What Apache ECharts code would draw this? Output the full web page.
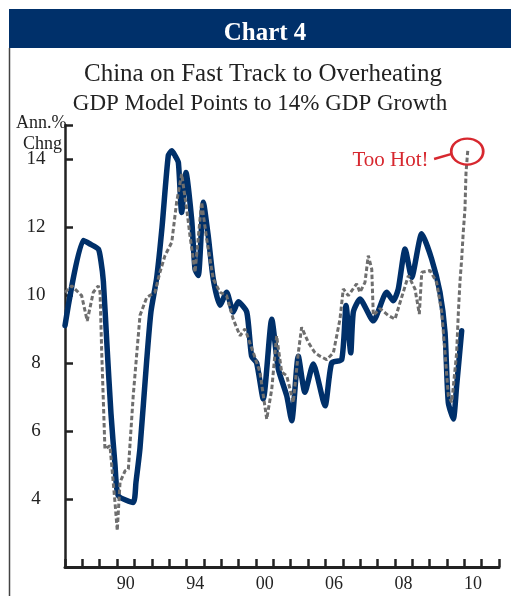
<!DOCTYPE html>
<html>
<head>
<meta charset="utf-8">
<script src="https://cdn.jsdelivr.net/npm/echarts@6/dist/echarts.min.js"></script>
<style>
html,body{margin:0;padding:0;background:#fff;}
#chart{width:511px;height:596px;}
</style>
</head>
<body>
<div id="chart"></div>
<script>
// x positions are in tick-period units along the horizontal axis (0 = left axis, 25 = right end)
const xTickLabels = ['', '', '', '90', '', '', '', '94', '', '', '', '00', '', '', '', '06', '', '', '', '08', '', '', '', '10', ''];

const gdpX = [0, 1.05, 1.44, 1.92, 2.07, 2.21, 2.42, 2.65, 2.88, 3.07, 3.93, 4.09, 4.32, 4.71, 4.95, 5.28, 5.59, 5.95, 6.15, 6.34, 6.53, 6.72, 6.97, 7.30, 7.49, 7.68, 7.97, 8.25, 8.54, 8.93, 9.31, 9.69, 9.98, 10.47, 10.75, 11.04, 11.42, 11.91, 12.29, 12.77, 13.06, 13.44, 13.82, 14.30, 14.98, 15.36, 15.94, 16.19, 16.46, 16.61, 16.99, 17.76, 18.53, 18.91, 19.20, 19.59, 19.97, 20.55, 21.12, 21.60, 21.89, 22.08, 22.37, 22.56, 22.85];
const gdpY = [9.1, 11.6, 11.5, 11.35, 11.0, 10.4, 8.5, 6.5, 5.0, 4.1, 3.9, 4.5, 5.5, 8.1, 9.5, 10.5, 12.0, 14.1, 14.24, 14.1, 13.9, 12.43, 13.6, 12.2, 10.76, 10.57, 12.73, 11.74, 10.47, 9.7, 10.08, 9.5, 9.8, 9.5, 8.2, 8.0, 6.94, 9.29, 7.82, 7.04, 6.3, 8.2, 7.14, 7.97, 6.74, 8.0, 8.1, 9.69, 8.3, 9.5, 9.88, 9.24, 10.08, 9.83, 10.18, 11.35, 10.52, 11.8, 11.06, 10.08, 8.9, 6.84, 6.35, 7.33, 8.95];

const modelX = [0, 0.39, 0.96, 1.28, 1.63, 1.92, 2.02, 2.11, 2.30, 2.59, 2.88, 3.01, 3.17, 3.46, 3.65, 3.93, 4.32, 4.71, 5.18, 5.47, 5.76, 6.15, 6.43, 6.72, 7.01, 7.20, 7.49, 7.87, 8.16, 8.54, 8.93, 9.31, 9.69, 10.08, 10.37, 10.85, 11.23, 11.62, 11.91, 12.19, 12.48, 12.77, 13.15, 13.44, 13.63, 14.02, 14.40, 14.69, 15.07, 15.46, 15.84, 16.03, 16.32, 16.80, 16.99, 17.28, 17.47, 17.67, 17.76, 18.15, 18.62, 19.01, 19.30, 19.78, 20.16, 20.41, 20.55, 21.03, 21.41, 21.70, 21.89, 22.08, 22.28, 22.56, 22.66, 22.75, 22.85, 22.94, 23.04, 23.10, 23.20];
const modelY = [10.08, 10.27, 9.98, 9.24, 10.08, 10.27, 10.08, 8.4, 5.47, 5.57, 3.9, 3.07, 4.49, 4.83, 4.88, 7.04, 9.4, 9.93, 10.08, 10.67, 11.16, 11.55, 12.73, 13.56, 12.53, 11.74, 10.67, 12.73, 11.65, 10.47, 10.08, 9.98, 9.29, 8.8, 9.0, 8.3, 7.73, 6.35, 7.23, 8.8, 7.73, 7.63, 6.84, 8.3, 9.05, 8.6, 8.3, 8.2, 8.1, 8.3, 9.29, 10.18, 9.98, 10.33, 10.08, 10.37, 11.16, 10.76, 9.4, 9.6, 9.4, 9.29, 9.78, 10.57, 10.18, 9.44, 10.67, 10.72, 10.37, 9.5, 8.3, 7.04, 6.84, 8.3, 9.5, 10.37, 11.06, 11.84, 12.53, 13.6, 14.24];

// annotation anchors in data coordinates
const hotCircle = [23.17, 14.22];
const hotText = [21.2, 13.95];
const hotLeader = [[21.26, 14.0], [22.28, 14.15]];

const gdpData = gdpX.map((x, i) => [x, gdpY[i]]);
const modelData = modelX.map((x, i) => [x, modelY[i]]);

const SERIF = '"Liberation Serif", "Times New Roman", serif';
const RED = '#d7282f';
const NAVY = '#00306a';

const chart = echarts.init(document.getElementById('chart'), null, {renderer: 'canvas'});
chart.setOption({
  animation: false,
  backgroundColor: '#fff',
  graphic: [
    {type: 'rect', shape: {x: 9, y: 9, width: 510, height: 39}, style: {fill: NAVY}, z: 0},
    {type: 'line', shape: {x1: 9.5, y1: 48, x2: 9.5, y2: 600}, style: {stroke: '#444', lineWidth: 1.5}, z: 0}
  ],
  title: [
    {text: 'Chart 4', left: 260, top: 16, textAlign: 'center',
     textStyle: {fontFamily: SERIF, fontWeight: 'bold', fontSize: 25, color: '#fff'}},
    {text: 'China on Fast Track to Overheating', left: 258, top: 57, textAlign: 'center',
     textStyle: {fontFamily: SERIF, fontWeight: 'normal', fontSize: 25, color: '#222'}},
    {text: 'GDP Model Points to 14% GDP Growth', left: 255, top: 87, textAlign: 'center',
     textStyle: {fontFamily: SERIF, fontWeight: 'normal', fontSize: 23, color: '#222'}},
    {text: 'Ann.%', left: 11, top: 109,
     textStyle: {fontFamily: SERIF, fontWeight: 'normal', fontSize: 18, color: '#222'}},
    {text: 'Chng', left: 18, top: 130,
     textStyle: {fontFamily: SERIF, fontWeight: 'normal', fontSize: 18, color: '#222'}}
  ],
  grid: {left: 65, right: 12, top: 125, bottom: 29, containLabel: false},
  xAxis: [
    {
      type: 'category',
      data: xTickLabels,
      boundaryGap: true,
      axisLine: {show: true, lineStyle: {color: '#222', width: 3}},
      axisTick: {show: true, inside: true, length: 8, interval: 0, lineStyle: {color: '#222', width: 2.5}},
      axisLabel: {interval: 0, margin: 8, fontFamily: SERIF, fontSize: 18, color: '#222'},
      splitLine: {show: false}
    },
    {type: 'value', min: 0, max: 25, show: false}
  ],
  yAxis: {
    type: 'value',
    min: 2, max: 15, interval: 2,
    axisLine: {show: true, lineStyle: {color: '#222', width: 2.5}},
    axisTick: {show: true, inside: true, length: 8, lineStyle: {color: '#222', width: 2.5}},
    axisLabel: {margin: 29, align: 'center', fontFamily: SERIF, fontSize: 19, color: '#222',
      formatter: v => (v === 2 || v === 15) ? '' : String(v)},
    splitLine: {show: false}
  },
  series: [
    {
      name: 'GDP', type: 'line', xAxisIndex: 1, data: gdpData,
      showSymbol: false, smooth: 0.2,
      lineStyle: {color: NAVY, width: 5.5, cap: 'round', join: 'round'},
      z: 2
    },
    {
      name: 'Model', type: 'line', xAxisIndex: 1, data: modelData,
      showSymbol: false, smooth: false,
      lineStyle: {color: '#6e6e6e', width: 3, type: [4.5, 2.5]},
      z: 3,
      markPoint: {
        silent: true,
        data: [
          {coord: hotCircle, symbol: 'circle', symbolSize: [32, 26],
           itemStyle: {color: 'rgba(0,0,0,0)', borderColor: RED, borderWidth: 2.5},
           label: {show: false}},
          {coord: hotText, symbol: 'circle', symbolSize: 1,
           itemStyle: {color: 'rgba(0,0,0,0)'},
           label: {show: true, position: 'left', distance: 4, formatter: 'Too Hot!',
                   fontFamily: SERIF, fontSize: 21, color: RED}}
        ]
      },
      markLine: {
        silent: true, symbol: 'none',
        lineStyle: {color: RED, width: 2.5, type: 'solid'},
        label: {show: false},
        data: [[{coord: hotLeader[0]}, {coord: hotLeader[1]}]]
      }
    }
  ]
});
</script>
</body>
</html>
